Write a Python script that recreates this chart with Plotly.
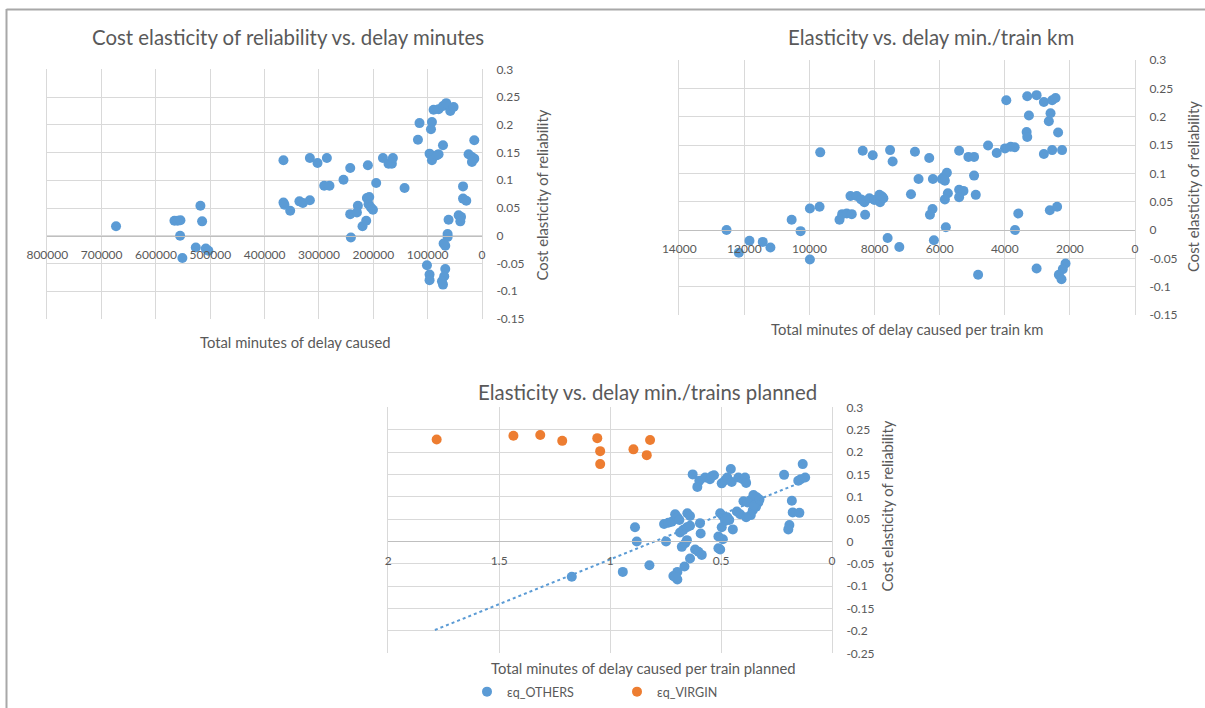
import plotly.graph_objects as go

# ---- Chart 1: elasticity vs. total delay minutes ----
delay_minutes = [673500, 566000, 560000, 555000, 555600, 551400, 518200, 515100, 526700, 508300, 503500,
                 365400, 365400, 363500, 353000, 336000, 329700, 316800, 316800, 302700, 285500, 290400,
                 280700, 254900, 242500, 242500, 241300, 228400, 230200, 219900, 213100, 210000, 211800,
                 207500, 208800, 204400, 200700, 194700, 182300, 172000, 165900, 164000,
                 142500, 117900, 115000, 92100, 93900, 89100, 79900, 71800, 65800, 58400, 52300, 71800,
                 96500, 92100, 82900, 79900, 14200, 24700, 18500, 14200, 18500, 34900, 34900, 28900,
                 43000, 38600, 39900, 61500, 63300, 63300, 70700, 67600, 101300, 96500, 96500, 67600,
                 69500, 73700, 71800]
elasticity_1 = [0.017, 0.027, 0.027, 0.028, 0.0, -0.04, 0.054, 0.026, -0.021, -0.023, -0.027,
                0.136, 0.060, 0.056, 0.045, 0.062, 0.059, 0.064, 0.140, 0.131, 0.140, 0.090,
                0.090, 0.101, 0.122, 0.039, -0.003, 0.054, 0.042, 0.017, 0.027, 0.127, 0.068,
                0.070, 0.057, 0.051, 0.047, 0.095, 0.140, 0.130, 0.130, 0.140,
                0.086, 0.173, 0.203, 0.205, 0.192, 0.227, 0.228, 0.234, 0.239, 0.225, 0.232, 0.163,
                0.148, 0.136, 0.145, 0.147, 0.172, 0.147, 0.142, 0.139, 0.133, 0.089, 0.067, 0.063,
                0.037, 0.034, 0.026, 0.029, 0.003, -0.002, -0.014, -0.018, -0.053, -0.070, -0.080, -0.060,
                -0.073, -0.082, -0.088]
x1_ticks = [800000, 700000, 600000, 500000, 400000, 300000, 200000, 100000, 0]
x1_labels = ["800000", "700000", "600000", "500000", "400000", "300000", "200000", "100000", "0"]

# ---- Chart 2: elasticity vs. delay minutes per train km ----
delay_per_km = [12548, 12172, 11844, 11436, 11201, 10548, 10273, 9988, 9691, 9670, 9988, 9078, 8996,
                8855, 8702, 8741, 8548, 8414, 8313, 8291, 8365, 8159, 8006, 7831, 7770, 7852, 7730,
                8058, 7525, 7446, 7600, 7240, 6882, 6760, 6650, 6322, 6209, 5933, 5862, 5779, 5841,
                5749, 5841, 6221, 6300, 5811, 6178, 5403, 5118, 4944, 4944, 4892, 5403, 5271, 5403,
                4820, 4514, 4248, 3994, 3820, 3697, 3954, 3687, 3586, 3311, 3023, 3259, 3330, 3311,
                3023, 2800, 2800, 2616, 2393, 2595, 2647, 2545, 2441, 2545, 2362, 2240, 2134, 2217,
                2339, 2258]
elasticity_2 = [0.0, -0.04, -0.019, -0.021, -0.031, 0.018, -0.002, 0.038, 0.041, 0.137, -0.052, 0.018, 0.028,
                0.029, 0.028, 0.060, 0.060, 0.054, 0.049, 0.027, 0.140, 0.056, 0.053, 0.049, 0.059, 0.062, 0.056,
                0.132, 0.141, 0.121, -0.014, -0.030, 0.063, 0.138, 0.090, 0.127, 0.090, 0.090, 0.094, 0.101, 0.087,
                0.065, 0.054, 0.037, 0.027, 0.005, -0.018, 0.140, 0.129, 0.129, 0.096, 0.062, 0.071, 0.069, 0.058,
                -0.079, 0.149, 0.136, 0.144, 0.147, 0.146, 0.229, 0.0, 0.029, 0.236, 0.238, 0.202, 0.173, 0.164,
                -0.068, 0.226, 0.134, 0.035, 0.041, 0.206, 0.192, 0.229, 0.233, 0.141, 0.172, 0.141, -0.059, -0.069,
                -0.079, -0.087]
x2_ticks = [14000, 12000, 10000, 8000, 6000, 4000, 2000, 0]
x2_labels = ["14000", "12000", "10000", "8000", "6000", "4000", "2000", "0"]

# ---- Chart 3: elasticity vs. delay minutes per train planned ----
others_x = [1.173, 0.943, 0.888, 0.880, 0.823, 0.748, 0.757, 0.738, 0.722, 0.707, 0.697, 0.688, 0.652,
            0.640, 0.595, 0.592, 0.685, 0.670, 0.654, 0.640, 0.677, 0.662, 0.654, 0.617, 0.602, 0.587,
            0.640, 0.665, 0.697, 0.715, 0.697, 0.706, 0.628, 0.598, 0.607, 0.572, 0.550, 0.542, 0.532,
            0.497, 0.482, 0.472, 0.456, 0.452, 0.422, 0.402, 0.392, 0.387, 0.216, 0.132, 0.152, 0.141,
            0.121, 0.181, 0.177, 0.147, 0.192, 0.197, 0.504, 0.492, 0.482, 0.472, 0.463, 0.482, 0.497,
            0.447, 0.492, 0.504, 0.429, 0.414, 0.399, 0.381, 0.366, 0.354, 0.339, 0.332, 0.342, 0.357,
            0.366, 0.387, 0.351, 0.327, 0.512, 0.512]
others_y = [-0.079, -0.068, 0.032, 0.0, -0.053, 0.0, 0.039, 0.042, 0.044, 0.061, 0.054, 0.048, 0.063,
            0.057, 0.041, 0.018, 0.020, 0.026, 0.032, 0.035, -0.012, -0.004, 0.003, -0.018, -0.023, -0.030,
            -0.038, -0.056, -0.068, -0.077, -0.085, -0.080, 0.150, 0.136, 0.122, 0.143, 0.139, 0.146, 0.148,
            0.130, 0.137, 0.143, 0.162, 0.133, 0.143, 0.139, 0.143, 0.131, 0.149, 0.173, 0.136, 0.139,
            0.143, 0.091, 0.065, 0.064, 0.037, 0.027, 0.063, 0.057, 0.052, 0.054, 0.048, 0.046, 0.032,
            0.027, 0.005, -0.018, 0.067, 0.061, 0.090, 0.087, 0.093, 0.104, 0.099, 0.087, 0.078, 0.070,
            0.059, 0.054, 0.081, 0.094, 0.011, -0.015]
virgin_x = [1.782, 1.436, 1.315, 1.216, 1.058, 1.045, 1.045, 0.895, 0.835, 0.820]
virgin_y = [0.228, 0.2365, 0.238, 0.225, 0.231, 0.202, 0.173, 0.206, 0.193, 0.227]
trend_x = [1.79, 0.16]
trend_y = [-0.198, 0.128]
x3_ticks = [2, 1.5, 1, 0.5, 0]
x3_labels = ["2", "1.5", "1", "0.5", "0"]

y12_ticks = [0.3, 0.25, 0.2, 0.15, 0.1, 0.05, 0, -0.05, -0.1, -0.15]
y12_labels = ["0.3", "0.25", "0.2", "0.15", "0.1", "0.05", "0", "-0.05", "-0.1", "-0.15"]
y3_ticks = [0.3, 0.25, 0.2, 0.15, 0.1, 0.05, 0, -0.05, -0.1, -0.15, -0.2, -0.25]
y3_labels = ["0.3", "0.25", "0.2", "0.15", "0.1", "0.05", "0", "-0.05", "-0.1", "-0.15", "-0.2", "-0.25"]

BLUE = "#5b9bd5"
ORANGE = "#ed7d31"
TEXT = "#595959"
GRID = "#d9d9d9"
AXIS = "#bfbfbf"
FONT = "Lato"
W, H = 1205, 708
MARKER = 10


def px_x(v):
    return v / W


def px_y(v):
    return 1 - v / H


fig = go.Figure()

fig.add_trace(go.Scatter(x=delay_minutes, y=elasticity_1, mode="markers", xaxis="x", yaxis="y",
                         marker=dict(color=BLUE, size=MARKER), showlegend=False, hoverinfo="x+y"))
fig.add_trace(go.Scatter(x=delay_per_km, y=elasticity_2, mode="markers", xaxis="x2", yaxis="y2",
                         marker=dict(color=BLUE, size=MARKER), showlegend=False, hoverinfo="x+y"))
fig.add_trace(go.Scatter(x=others_x, y=others_y, mode="markers", xaxis="x3", yaxis="y3",
                         name="εq_OTHERS", marker=dict(color=BLUE, size=MARKER)))
fig.add_trace(go.Scatter(x=virgin_x, y=virgin_y, mode="markers", xaxis="x3", yaxis="y3",
                         name="εq_VIRGIN", marker=dict(color=ORANGE, size=MARKER)))
fig.add_trace(go.Scatter(x=trend_x, y=trend_y, mode="lines", xaxis="x3", yaxis="y3",
                         line=dict(color=BLUE, width=2, dash="dot"), showlegend=False, hoverinfo="skip"))

# plot-area domains (paper fractions)
panels = [
    dict(xd=[px_x(47.3), px_x(482)], yd=[px_y(319), px_y(69.3)], xr=[800000, 0], yr=[-0.15, 0.3],
         xt=(x1_ticks, x1_labels), yt=(y12_ticks, y12_labels)),
    dict(xd=[px_x(679.3), px_x(1135)], yd=[px_y(315), px_y(60)], xr=[14000, 0], yr=[-0.15, 0.3],
         xt=(x2_ticks, x2_labels), yt=(y12_ticks, y12_labels)),
    dict(xd=[px_x(388.3), px_x(832)], yd=[px_y(653.3), px_y(407.3)], xr=[2, 0], yr=[-0.25, 0.3],
         xt=(x3_ticks, x3_labels), yt=(y3_ticks, y3_labels)),
]

layout = dict(
    width=W, height=H, margin=dict(l=0, r=0, t=0, b=0, autoexpand=False),
    paper_bgcolor="white", plot_bgcolor="white",
    font=dict(family=FONT, color=TEXT),
    legend=dict(orientation="h", x=px_x(467), y=px_y(692), xanchor="left", yanchor="middle",
                font=dict(size=12.5, color=TEXT, family=FONT), itemwidth=30,
                entrywidth=105, entrywidthmode="pixels", bgcolor="rgba(0,0,0,0)"),
)

for i, p in enumerate(panels):
    sfx = "" if i == 0 else str(i + 1)
    yr = p["yr"]
    # horizontal axis crosses the value axis at zero
    zero_pos = p["yd"][0] + (0 - yr[0]) / (yr[1] - yr[0]) * (p["yd"][1] - p["yd"][0])
    layout["xaxis" + sfx] = dict(
        domain=p["xd"], range=p["xr"], anchor="free", position=zero_pos, automargin=False,
        tickvals=p["xt"][0], ticktext=p["xt"][1], ticks="", ticklabelstandoff=8,
        showgrid=True, gridcolor=GRID, gridwidth=1, zeroline=False,
        showline=True, linecolor=AXIS, linewidth=1,
        tickfont=dict(size=12, color=TEXT, family=FONT), fixedrange=True,
    )
    layout["yaxis" + sfx] = dict(
        domain=p["yd"], range=yr, side="right", anchor="x" + sfx, automargin=False,
        tickvals=p["yt"][0], ticktext=p["yt"][1], ticks="", ticklabelstandoff=11,
        showgrid=True, gridcolor=GRID, gridwidth=1, zeroline=False,
        showline=True, mirror=True, linecolor=GRID, linewidth=1,
        tickfont=dict(size=12, color=TEXT, family=FONT), fixedrange=True,
    )

annotations = []
# chart titles
for text, cx, cy in [("Cost elasticity of reliability vs. delay minutes", 288, 37),
                     ("Elasticity vs. delay min./train km", 931, 37),
                     ("Elasticity vs. delay min./trains planned", 647, 392)]:
    annotations.append(dict(text=text, x=px_x(cx), y=px_y(cy), xref="paper", yref="paper",
                            showarrow=False, xanchor="center", yanchor="middle",
                            font=dict(size=20.4, color=TEXT, family=FONT)))
# horizontal axis titles
for text, cx, cy in [("Total minutes of delay caused", 295.5, 342),
                     ("Total minutes of delay caused per train km", 907, 329),
                     ("Total minutes of delay caused per train planned", 643, 668)]:
    annotations.append(dict(text=text, x=px_x(cx), y=px_y(cy), xref="paper", yref="paper",
                            showarrow=False, xanchor="center", yanchor="middle",
                            font=dict(size=14.8, color=TEXT, family=FONT)))
# vertical axis titles
for cx, cy in [(541.5, 195), (1193, 187), (886.5, 506)]:
    annotations.append(dict(text="Cost elasticity of reliability", x=px_x(cx), y=px_y(cy),
                            xref="paper", yref="paper", showarrow=False, textangle=-90,
                            xanchor="center", yanchor="middle",
                            font=dict(size=14.8, color=TEXT, family=FONT)))
layout["annotations"] = annotations

# outer frame of the page
layout["shapes"] = [
    dict(type="line", xref="paper", yref="paper", x0=px_x(6.5), x1=px_x(6.5), y0=0, y1=px_y(9),
         line=dict(color="#a8a8a8", width=2)),
    dict(type="line", xref="paper", yref="paper", x0=px_x(6.5), x1=1, y0=px_y(9.5), y1=px_y(9.5),
         line=dict(color="#a8a8a8", width=2)),
]

fig.update_layout(**layout)
fig.write_html("out.html")
